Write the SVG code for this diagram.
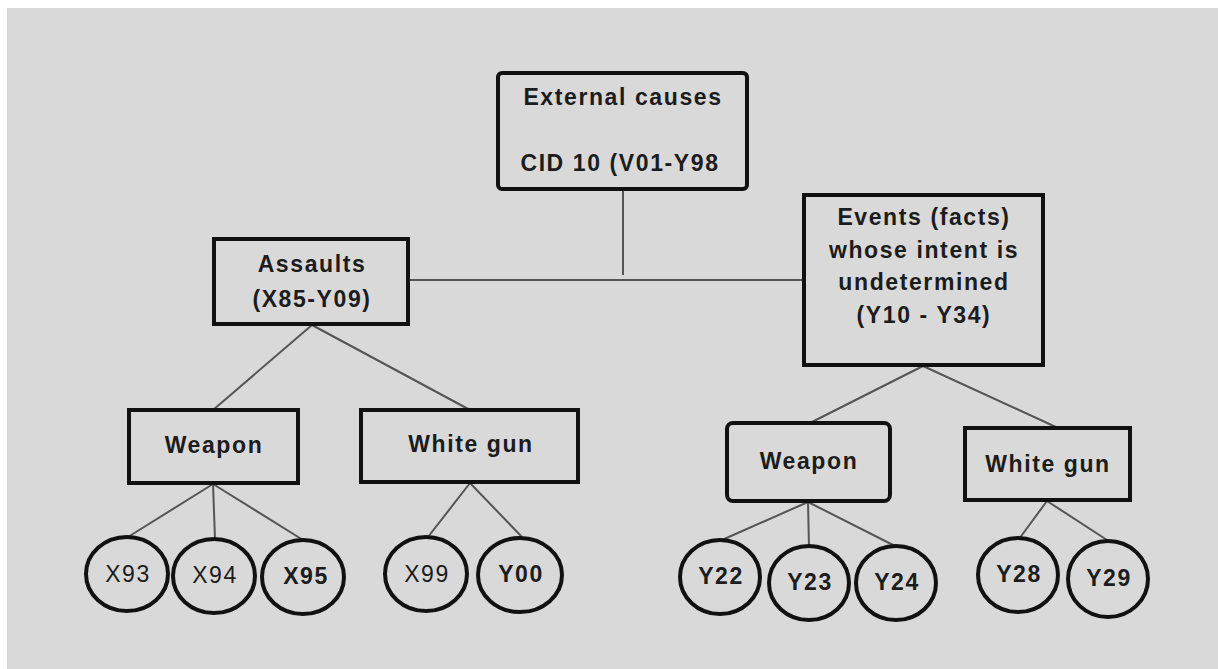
<svg xmlns="http://www.w3.org/2000/svg" width="1218" height="669" viewBox="0 0 1218 669">
<style>
.box{fill:#d9d9d9;stroke:#111;stroke-width:4}
.circ{fill:#d9d9d9;stroke:#111;stroke-width:4}
.ln{stroke:#555;stroke-width:2;fill:none}
.t{font-family:"Liberation Sans",Arial,sans-serif;font-size:23px;font-weight:bold;letter-spacing:1.6px;fill:#1c1c1c;text-anchor:middle}
.n{font-weight:normal}
</style>
<rect x="0" y="0" width="1218" height="669" fill="#ffffff"/>
<rect x="7" y="8" width="1211" height="661" fill="#d9d9d9"/>
<g id="connectors">
<line class="ln" x1="623" y1="190" x2="623" y2="275"/>
<line class="ln" x1="410" y1="280" x2="803" y2="280"/>
<line class="ln" x1="312" y1="325" x2="213" y2="410"/>
<line class="ln" x1="312" y1="325" x2="470" y2="410"/>
<line class="ln" x1="923" y1="366" x2="810" y2="423"/>
<line class="ln" x1="923" y1="366" x2="1058" y2="428"/>
<line class="ln" x1="213" y1="484" x2="128" y2="537"/>
<line class="ln" x1="213" y1="484" x2="215" y2="539"/>
<line class="ln" x1="213" y1="484" x2="303" y2="540"/>
<line class="ln" x1="470" y1="483" x2="428" y2="537"/>
<line class="ln" x1="470" y1="483" x2="522" y2="537"/>
<line class="ln" x1="808" y1="502" x2="722" y2="540"/>
<line class="ln" x1="808" y1="502" x2="809" y2="547"/>
<line class="ln" x1="808" y1="502" x2="897" y2="547"/>
<line class="ln" x1="1047" y1="501" x2="1019" y2="539"/>
<line class="ln" x1="1047" y1="501" x2="1107" y2="540"/>
</g>
<g id="external-causes">
<rect class="box" x="498" y="73" width="249" height="116" rx="4"/>
<text class="t" x="623" y="105">External causes</text>
<text class="t" x="620" y="171">CID 10 (V01-Y98</text>
</g>
<g id="assaults">
<rect class="box" x="214" y="239" width="194" height="85"/>
<text class="t" x="312" y="272">Assaults</text>
<text class="t" x="312" y="307">(X85-Y09)</text>
</g>
<g id="events">
<rect class="box" x="804" y="195" width="239" height="170"/>
<text class="t" x="924" y="225">Events (facts)</text>
<text class="t" x="924" y="258">whose intent is</text>
<text class="t" x="924" y="290">undetermined</text>
<text class="t" x="924" y="323">(Y10 - Y34)</text>
</g>
<g id="weapon-1">
<rect class="box" x="129" y="410" width="169" height="73"/>
<text class="t" x="214" y="453">Weapon</text>
</g>
<g id="white-gun-1">
<rect class="box" x="361" y="410" width="217" height="72"/>
<text class="t" x="471" y="452">White gun</text>
</g>
<g id="weapon-2">
<rect class="box" x="727" y="423" width="163" height="78" rx="6"/>
<text class="t" x="809" y="469">Weapon</text>
</g>
<g id="white-gun-2">
<rect class="box" x="965" y="428" width="165" height="72"/>
<text class="t" x="1048" y="472">White gun</text>
</g>
<g id="x93"><ellipse class="circ" cx="127" cy="574" rx="41" ry="37"/><text class="t n" x="128" y="582">X93</text></g>
<g id="x94"><ellipse class="circ" cx="214" cy="576" rx="41" ry="37"/><text class="t n" x="215" y="583">X94</text></g>
<g id="x95"><ellipse class="circ" cx="303" cy="577" rx="41" ry="37"/><text class="t" x="306" y="584">X95</text></g>
<g id="x99"><ellipse class="circ" cx="426" cy="574" rx="41" ry="37"/><text class="t n" x="427" y="582">X99</text></g>
<g id="y00"><ellipse class="circ" cx="520" cy="575" rx="42" ry="37"/><text class="t" x="521" y="582">Y00</text></g>
<g id="y22"><ellipse class="circ" cx="720" cy="577" rx="40" ry="37"/><text class="t" x="721" y="584">Y22</text></g>
<g id="y23"><ellipse class="circ" cx="809" cy="583" rx="40" ry="37"/><text class="t" x="810" y="590">Y23</text></g>
<g id="y24"><ellipse class="circ" cx="896" cy="583" rx="40" ry="37"/><text class="t" x="897" y="590">Y24</text></g>
<g id="y28"><ellipse class="circ" cx="1018" cy="575" rx="40" ry="37"/><text class="t" x="1019" y="582">Y28</text></g>
<g id="y29"><ellipse class="circ" cx="1108" cy="579" rx="40" ry="38"/><text class="t" x="1109" y="586">Y29</text></g>
</svg>
